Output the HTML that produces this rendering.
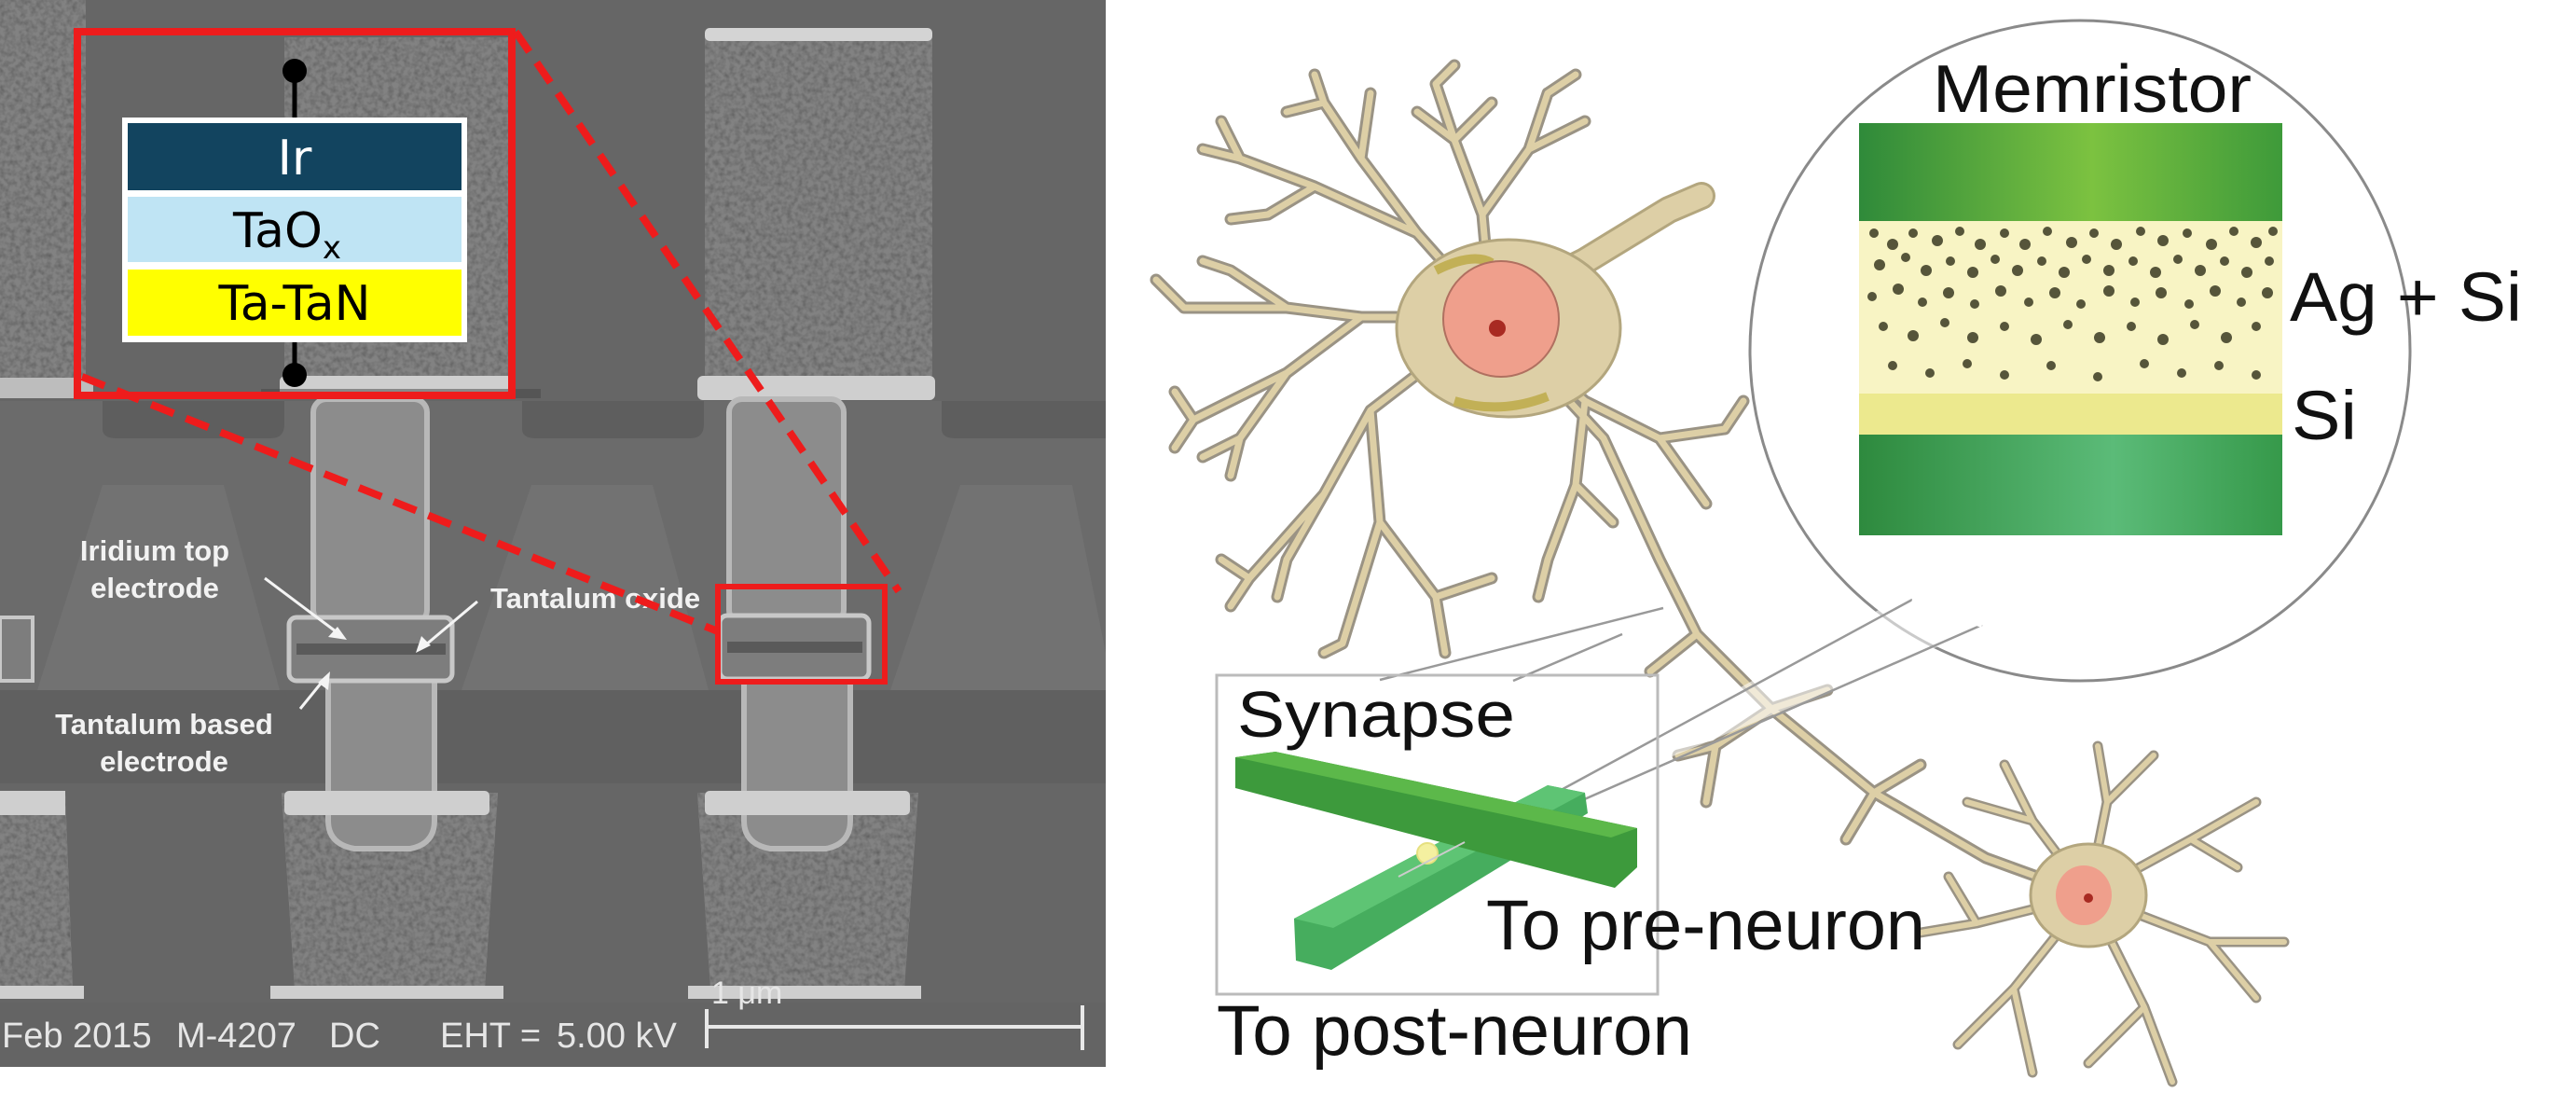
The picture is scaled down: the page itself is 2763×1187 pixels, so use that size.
<!DOCTYPE html>
<html><head><meta charset="utf-8"><style>
html,body{margin:0;padding:0;background:#fff;}
svg{display:block;}
</style></head><body>
<svg width="2763" height="1187" viewBox="0 0 2763 1187" xmlns="http://www.w3.org/2000/svg">
<defs>
<filter id="tex" x="0" y="0" width="100%" height="100%">
<feTurbulence type="fractalNoise" baseFrequency="0.18" numOctaves="2" seed="3"/>
<feColorMatrix type="matrix" values="0 0 0 0 0.5  0 0 0 0 0.5  0 0 0 0 0.5  0 0 0 1.6 -0.55"/>
<feComposite in2="SourceGraphic" operator="in"/>
<feBlend in2="SourceGraphic" mode="multiply"/>
</filter>
<linearGradient id="gtop" x1="0" x2="1" y1="0" y2="0">
<stop offset="0" stop-color="#2f8a3a"/><stop offset="0.55" stop-color="#7cc240"/><stop offset="1" stop-color="#3e9a3a"/></linearGradient>
<linearGradient id="gbot" x1="0" x2="1" y1="0" y2="0">
<stop offset="0" stop-color="#2e8a3e"/><stop offset="0.6" stop-color="#5bbb78"/><stop offset="1" stop-color="#36994a"/></linearGradient>
</defs>

<!-- ================= SEM PANEL ================= -->
<rect x="0" y="0" width="1186" height="1144" fill="#666"/>
<rect x="0" y="430" width="1186" height="310" fill="#6b6b6b"/>
<rect x="0" y="740" width="1186" height="100" fill="#606060"/>
<polygon points="40,740 110,520 240,520 300,740" fill="#727272"/>
<polygon points="495,740 570,520 700,520 760,740" fill="#727272"/>
<polygon points="955,740 1030,520 1150,520 1186,700 1186,740" fill="#727272"/>
<path d="M110,430 L110,460 Q110,470 125,470 L290,470 Q305,470 305,455 L305,430" fill="#5e5e5e"/>
<path d="M560,430 L560,460 Q560,470 575,470 L740,470 Q755,470 755,455 L755,430" fill="#5e5e5e"/>
<path d="M1010,430 L1010,460 Q1010,470 1025,470 L1186,470 L1186,430" fill="#5e5e5e"/>
<g filter="url(#tex)">
<rect x="0" y="0" width="92" height="410" fill="#828282"/>
<rect x="305" y="40" width="241" height="370" fill="#828282"/>
<rect x="756" y="40" width="244" height="370" fill="#828282"/>
<polygon points="302,850 534,850 520,1060 316,1060" fill="#828282"/>
<polygon points="748,850 985,850 970,1060 762,1060" fill="#828282"/>
<polygon points="0,850 70,850 78,1060 0,1060" fill="#828282"/>
</g>
<rect x="756" y="30" width="244" height="14" rx="5" fill="#d4d4d4"/>
<rect x="0" y="405" width="100" height="22" fill="#bdbdbd"/>
<rect x="300" y="403" width="250" height="24" rx="6" fill="#cfcfcf"/>
<rect x="748" y="403" width="255" height="26" rx="6" fill="#cfcfcf"/>
<rect x="280" y="417" width="300" height="10" fill="#444" opacity="0.5"/>
<rect x="336" y="428" width="122" height="240" rx="14" fill="#8c8c8c" stroke="#b8b8b8" stroke-width="6"/>
<rect x="782" y="428" width="123" height="240" rx="14" fill="#8c8c8c" stroke="#b8b8b8" stroke-width="6"/>
<path d="M352,725 L466,725 L466,880 Q466,905 440,910 L380,910 Q352,905 352,880 Z" fill="#8c8c8c" stroke="#b8b8b8" stroke-width="6"/>
<path d="M798,725 L912,725 L912,880 Q912,905 886,910 L826,910 Q798,905 798,880 Z" fill="#8c8c8c" stroke="#b8b8b8" stroke-width="6"/>
<rect x="310" y="662" width="175" height="68" rx="8" fill="#7d7d7d" stroke="#c8c8c8" stroke-width="5"/>
<rect x="318" y="690" width="160" height="12" fill="#5a5a5a"/>
<rect x="772" y="660" width="160" height="68" rx="8" fill="#7d7d7d" stroke="#c8c8c8" stroke-width="5"/>
<rect x="780" y="688" width="145" height="12" fill="#5a5a5a"/>
<rect x="0" y="662" width="35" height="68" fill="#7d7d7d" stroke="#c8c8c8" stroke-width="4"/>
<rect x="305" y="848" width="220" height="26" rx="5" fill="#cfcfcf"/>
<rect x="756" y="848" width="220" height="26" rx="5" fill="#cfcfcf"/>
<rect x="0" y="848" width="70" height="26" fill="#cfcfcf"/>
<rect x="290" y="1057" width="250" height="14" fill="#cfcfcf"/>
<rect x="738" y="1057" width="250" height="14" fill="#cfcfcf"/>
<rect x="0" y="1057" width="90" height="14" fill="#cfcfcf"/>
<rect x="0" y="1075" width="1186" height="69" fill="#646464"/>

<g font-family="Liberation Sans, sans-serif" font-weight="bold" font-size="31" fill="#f2f2f2" text-anchor="middle">
<text x="166" y="601">Iridium top</text>
<text x="166" y="641">electrode</text>
<text x="176" y="787">Tantalum based</text>
<text x="176" y="827">electrode</text>
<text x="526" y="652" text-anchor="start">Tantalum oxide</text>
</g>
<g stroke="#f4f4f4" stroke-width="3" fill="#f4f4f4">
<line x1="284" y1="620" x2="364" y2="680"/><polygon points="372,686 352,683 362,672" stroke="none"/>
<line x1="512" y1="645" x2="456" y2="692"/><polygon points="446,700 452,682 462,692" stroke="none"/>
<line x1="322" y1="760" x2="348" y2="728"/><polygon points="354,720 352,740 341,732" stroke="none"/>
</g>
<g font-family="Liberation Sans, sans-serif" font-size="38" fill="#e6e6e6">
<text x="2" y="1123">Feb 2015</text>
<text x="189" y="1123">M-4207</text>
<text x="353" y="1123">DC</text>
<text x="472" y="1123">EHT =</text>
<text x="597" y="1123">5.00 kV</text>
<text x="763" y="1076" font-size="34">1 μm</text>
</g>
<g stroke="#e8e8e8" stroke-width="4">
<line x1="758" y1="1101" x2="1161" y2="1101"/>
<line x1="758" y1="1082" x2="758" y2="1124"/>
<line x1="1161" y1="1078" x2="1161" y2="1126"/>
</g>

<rect x="83" y="34" width="466" height="390" fill="none" stroke="#ee1c1c" stroke-width="8"/>
<rect x="770" y="629" width="179" height="102" fill="none" stroke="#ee1c1c" stroke-width="6"/>
<g stroke="#ee1c1c" stroke-width="8" stroke-dasharray="26,14" fill="none">
<line x1="553" y1="34" x2="964" y2="634"/>
<line x1="88" y1="404" x2="770" y2="677"/>
</g>
<line x1="316" y1="76" x2="316" y2="130" stroke="#000" stroke-width="5"/>
<line x1="316" y1="366" x2="316" y2="402" stroke="#000" stroke-width="5"/>
<circle cx="316" cy="76" r="13" fill="#000"/>
<circle cx="316" cy="402" r="13" fill="#000"/>
<rect x="131" y="126" width="370" height="241" fill="#fff"/>
<rect x="137" y="132" width="358" height="72" fill="#12445f"/>
<rect x="137" y="211" width="358" height="70" fill="#bfe4f4"/>
<rect x="137" y="289" width="358" height="71" fill="#ffff00"/>
<g font-family="DejaVu Sans, sans-serif" font-size="52" text-anchor="middle">
<text x="316" y="187" fill="#fff">Ir</text>
<text x="308" y="265" fill="#000">TaO<tspan font-size="34" dy="12">x</tspan></text>
<text x="316" y="343" fill="#000">Ta-TaN</text>
</g>

<!-- ================= NEURON PANEL ================= -->
<!-- bubble -->
<circle cx="2231" cy="376" r="354" fill="#fff" stroke="#8a8a8a" stroke-width="3"/>

<g fill="none" stroke-linecap="round" stroke-linejoin="round">
<g id="d1" stroke="#9a9384" stroke-width="13">
<path d="M1600,340 L1520,250 L1460,170 L1420,110 L1410,80 M1460,170 L1470,100 M1420,110 L1380,120 M1520,250 L1410,200 L1330,170 L1310,130 M1410,200 L1360,230 L1320,235 M1330,170 L1290,160"/>
<path d="M1600,340 L1590,230 L1560,150 L1540,90 M1590,230 L1640,160 L1660,100 M1640,160 L1700,130 M1560,150 L1600,110 M1540,90 L1560,70 M1660,100 L1690,80 M1560,150 L1520,120"/>
<path d="M1600,340 L1460,340 L1380,330 L1270,330 M1380,330 L1320,290 L1290,280 M1460,340 L1380,400 L1280,450 L1260,480 M1380,400 L1330,470 L1320,510 M1270,330 L1240,300 M1280,450 L1260,420 M1330,470 L1290,490"/>
<path d="M1600,340 L1470,440 L1420,530 L1340,620 L1320,650 M1420,530 L1380,600 L1370,640 M1470,440 L1480,560 L1440,690 M1480,560 L1540,640 L1550,700 M1540,640 L1600,620 M1340,620 L1310,600 M1440,690 L1420,700"/>
<path d="M1600,340 L1700,430 L1780,470 L1850,460 M1780,470 L1830,540 M1700,430 L1690,520 L1660,600 L1650,640 M1690,520 L1730,560 M1850,460 L1870,430"/>
<path d="M1600,340 L1720,470 L1780,600 L1820,680 L1900,760 L2010,850 L2130,920 L2240,960 M1820,680 L1770,720 M1900,760 L1840,800 L1830,860 M1900,760 L1960,740 M2010,850 L1980,900 M2010,850 L2060,820 M1840,800 L1800,810"/>
</g>
<g stroke="#ddcfa6" stroke-width="7">
<path d="M1600,340 L1520,250 L1460,170 L1420,110 L1410,80 M1460,170 L1470,100 M1420,110 L1380,120 M1520,250 L1410,200 L1330,170 L1310,130 M1410,200 L1360,230 L1320,235 M1330,170 L1290,160"/>
<path d="M1600,340 L1590,230 L1560,150 L1540,90 M1590,230 L1640,160 L1660,100 M1640,160 L1700,130 M1560,150 L1600,110 M1540,90 L1560,70 M1660,100 L1690,80 M1560,150 L1520,120"/>
<path d="M1600,340 L1460,340 L1380,330 L1270,330 M1380,330 L1320,290 L1290,280 M1460,340 L1380,400 L1280,450 L1260,480 M1380,400 L1330,470 L1320,510 M1270,330 L1240,300 M1280,450 L1260,420 M1330,470 L1290,490"/>
<path d="M1600,340 L1470,440 L1420,530 L1340,620 L1320,650 M1420,530 L1380,600 L1370,640 M1470,440 L1480,560 L1440,690 M1480,560 L1540,640 L1550,700 M1540,640 L1600,620 M1340,620 L1310,600 M1440,690 L1420,700"/>
<path d="M1600,340 L1700,430 L1780,470 L1850,460 M1780,470 L1830,540 M1700,430 L1690,520 L1660,600 L1650,640 M1690,520 L1730,560 M1850,460 L1870,430"/>
<path d="M1600,340 L1720,470 L1780,600 L1820,680 L1900,760 L2010,850 L2130,920 L2240,960 M1820,680 L1770,720 M1900,760 L1840,800 L1830,860 M1900,760 L1960,740 M2010,850 L1980,900 M2010,850 L2060,820 M1840,800 L1800,810"/>
</g>
<path d="M1640,310 L1700,280 L1790,225 L1825,210" stroke="#b3a67e" stroke-width="30"/>
<path d="M1640,310 L1700,280 L1790,225 L1825,210" stroke="#ddcfa6" stroke-width="24"/>
<g stroke="#9a9384" stroke-width="11">
<path d="M2240,960 L2180,880 L2150,820 M2180,880 L2110,860 M2240,960 L2260,860 L2250,800 M2260,860 L2310,810 M2240,960 L2350,900 L2420,860 M2350,900 L2400,930 M2240,960 L2370,1010 L2450,1010 M2370,1010 L2420,1070 M2240,960 L2300,1080 L2330,1160 M2300,1080 L2240,1140 M2240,960 L2160,1060 L2100,1120 M2160,1060 L2180,1150 M2240,960 L2120,990 L2060,1000 M2120,990 L2090,940"/>
</g>
<g stroke="#ddcfa6" stroke-width="6">
<path d="M2240,960 L2180,880 L2150,820 M2180,880 L2110,860 M2240,960 L2260,860 L2250,800 M2260,860 L2310,810 M2240,960 L2350,900 L2420,860 M2350,900 L2400,930 M2240,960 L2370,1010 L2450,1010 M2370,1010 L2420,1070 M2240,960 L2300,1080 L2330,1160 M2300,1080 L2240,1140 M2240,960 L2160,1060 L2100,1120 M2160,1060 L2180,1150 M2240,960 L2120,990 L2060,1000 M2120,990 L2090,940"/>
</g>
</g>
<ellipse cx="1618" cy="352" rx="120" ry="95" fill="#ddcfa6" stroke="#b3a67e" stroke-width="3"/>
<path d="M1540,290 Q1580,270 1600,282" stroke="#c2b056" stroke-width="10" fill="none"/>
<path d="M1560,430 Q1610,445 1660,425" stroke="#c2b056" stroke-width="10" fill="none"/>
<ellipse cx="1610" cy="342" rx="62" ry="62" fill="#ef9f8c" stroke="#b07060" stroke-width="2"/>
<circle cx="1606" cy="352" r="9" fill="#a82a22"/>
<ellipse cx="2240" cy="960" rx="62" ry="55" fill="#ddcfa6" stroke="#b3a67e" stroke-width="3"/>
<ellipse cx="2235" cy="960" rx="30" ry="32" fill="#ef9f8c"/>
<circle cx="2240" cy="963" r="5" fill="#a82a22"/>

<!-- bubble tail (white wedge over the neuron) -->
<polygon points="2040,640 1571,903 2140,668" fill="#fff" opacity="0.55"/>
<path d="M2040,640 L2051,643" stroke="#fff" stroke-width="1"/>
<g stroke="#999" stroke-width="2.5" fill="none">
<line x1="2051" y1="643" x2="1571" y2="903"/>
<line x1="2126" y1="670" x2="1590" y2="905"/>
<line x1="1784" y1="652" x2="1480" y2="729"/>
<line x1="1740" y1="680" x2="1623" y2="730"/>
</g>
<path d="M2051,643 L2126,670" stroke="#fff" stroke-width="6"/>

<rect x="1994" y="132" width="454" height="105" fill="url(#gtop)"/>
<rect x="1994" y="237" width="454" height="185" fill="#f8f4c4"/>
<rect x="1994" y="422" width="454" height="44" fill="#ece98e"/>
<rect x="1994" y="466" width="454" height="108" fill="url(#gbot)"/>
<g fill="#56553a">
<circle cx="2010" cy="250" r="5"/><circle cx="2030" cy="262" r="6"/><circle cx="2052" cy="250" r="5"/><circle cx="2078" cy="258" r="6"/><circle cx="2102" cy="248" r="5"/><circle cx="2124" cy="262" r="6"/><circle cx="2150" cy="250" r="5"/><circle cx="2172" cy="262" r="6"/><circle cx="2196" cy="248" r="5"/><circle cx="2222" cy="260" r="6"/><circle cx="2246" cy="250" r="5"/><circle cx="2270" cy="262" r="6"/><circle cx="2296" cy="248" r="5"/><circle cx="2320" cy="258" r="6"/><circle cx="2346" cy="250" r="5"/><circle cx="2372" cy="262" r="6"/><circle cx="2396" cy="248" r="5"/><circle cx="2420" cy="260" r="6"/><circle cx="2438" cy="248" r="5"/>
<circle cx="2016" cy="284" r="6"/><circle cx="2044" cy="276" r="5"/><circle cx="2066" cy="290" r="6"/><circle cx="2092" cy="280" r="5"/><circle cx="2116" cy="292" r="6"/><circle cx="2140" cy="278" r="5"/><circle cx="2164" cy="290" r="6"/><circle cx="2190" cy="280" r="5"/><circle cx="2214" cy="292" r="6"/><circle cx="2238" cy="278" r="5"/><circle cx="2262" cy="290" r="6"/><circle cx="2288" cy="280" r="5"/><circle cx="2312" cy="292" r="6"/><circle cx="2336" cy="278" r="5"/><circle cx="2360" cy="290" r="6"/><circle cx="2386" cy="280" r="5"/><circle cx="2410" cy="292" r="6"/><circle cx="2434" cy="280" r="5"/>
<circle cx="2008" cy="318" r="5"/><circle cx="2036" cy="310" r="6"/><circle cx="2062" cy="324" r="5"/><circle cx="2090" cy="314" r="6"/><circle cx="2118" cy="326" r="5"/><circle cx="2146" cy="312" r="6"/><circle cx="2176" cy="324" r="5"/><circle cx="2204" cy="314" r="6"/><circle cx="2232" cy="326" r="5"/><circle cx="2262" cy="312" r="6"/><circle cx="2290" cy="324" r="5"/><circle cx="2318" cy="314" r="6"/><circle cx="2348" cy="326" r="5"/><circle cx="2376" cy="312" r="6"/><circle cx="2404" cy="324" r="5"/><circle cx="2432" cy="314" r="6"/>
<circle cx="2020" cy="350" r="5"/><circle cx="2052" cy="360" r="6"/><circle cx="2086" cy="346" r="5"/><circle cx="2116" cy="362" r="6"/><circle cx="2150" cy="350" r="5"/><circle cx="2184" cy="364" r="6"/><circle cx="2218" cy="348" r="5"/><circle cx="2252" cy="362" r="6"/><circle cx="2286" cy="350" r="5"/><circle cx="2320" cy="364" r="6"/><circle cx="2354" cy="348" r="5"/><circle cx="2388" cy="362" r="6"/><circle cx="2420" cy="350" r="5"/>
<circle cx="2030" cy="392" r="5"/><circle cx="2070" cy="400" r="5"/><circle cx="2110" cy="390" r="5"/><circle cx="2150" cy="402" r="5"/><circle cx="2200" cy="392" r="5"/><circle cx="2250" cy="404" r="5"/><circle cx="2300" cy="390" r="5"/><circle cx="2340" cy="400" r="5"/><circle cx="2380" cy="392" r="5"/><circle cx="2420" cy="402" r="5"/>
</g>
<g font-family="Liberation Sans, sans-serif" fill="#111">
<text x="2073" y="120" font-size="72" textLength="342" lengthAdjust="spacingAndGlyphs">Memristor</text>
<text x="2456" y="344" font-size="74" textLength="249" lengthAdjust="spacingAndGlyphs">Ag + Si</text>
<text x="2458" y="471" font-size="74" textLength="70" lengthAdjust="spacingAndGlyphs">Si</text>
</g>

<rect x="1305" y="724" width="473" height="342" fill="#fff" fill-opacity="0.0" stroke="#bbb" stroke-width="3"/>
<polygon points="1388,985 1660,842 1700,850 1703,872 1428,1040 1390,1030" fill="#46ad5e"/>
<polygon points="1388,985 1660,842 1700,850 1430,995" fill="#5ec474"/>
<circle cx="1531" cy="915" r="11" fill="#f4f0a0" stroke="#e6e080" stroke-width="2"/>
<polygon points="1325,812 1368,806 1756,888 1756,930 1732,952 1325,845" fill="#3d9a3c"/>
<polygon points="1325,812 1368,806 1756,888 1728,898" fill="#5cb84a"/>
<line x1="1571" y1="903" x2="1500" y2="940" stroke="#ccc" stroke-width="2"/>
<g font-family="Liberation Sans, sans-serif" fill="#111">
<text x="1327" y="790" font-size="70" textLength="298" lengthAdjust="spacingAndGlyphs">Synapse</text>
<text x="1594" y="1018" font-size="76" textLength="471" lengthAdjust="spacingAndGlyphs">To pre-neuron</text>
<text x="1305" y="1131" font-size="76" textLength="510" lengthAdjust="spacingAndGlyphs">To post-neuron</text>
</g>
</svg>
</body></html>
